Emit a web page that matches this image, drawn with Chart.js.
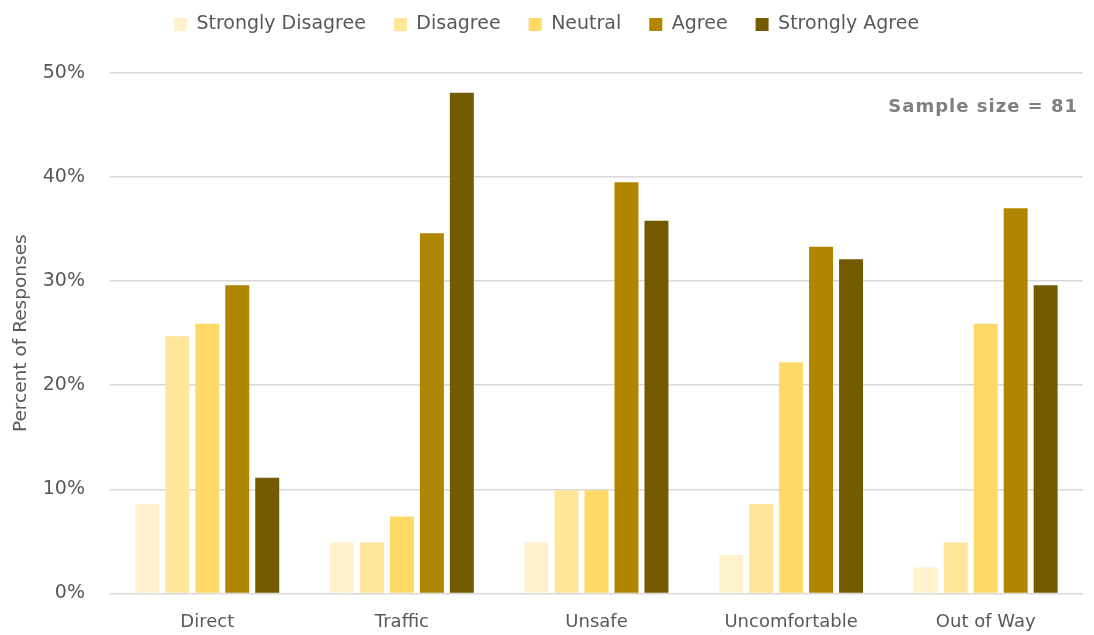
<!DOCTYPE html>
<html>
<head>
<meta charset="utf-8">
<script src="https://cdn.jsdelivr.net/npm/chart.js@4"></script>
<style>
html,body{margin:0;padding:0;background:#fff;}
#wrap{width:1094px;height:635px;position:relative;}
</style>
</head>
<body>
<div id="wrap"><canvas id="c" width="1094" height="635"></canvas></div>
<script>
const categories = ["Direct", "Traffic", "Unsafe", "Uncomfortable", "Out of Way"];
const seriesNames = ["Strongly Disagree", "Disagree", "Neutral", "Agree", "Strongly Agree"];
const stronglyDisagree = [8.6, 4.9, 4.9, 3.7, 2.5];
const disagree = [24.7, 4.9, 9.9, 8.6, 4.9];
const neutral = [25.9, 7.4, 9.9, 22.2, 25.9];
const agree = [29.6, 34.6, 39.5, 33.3, 37.0];
const stronglyAgree = [11.1, 48.1, 35.8, 32.1, 29.6];
const yTicks = [0, 10, 20, 30, 40, 50];
const colors = ["#FFF2CC", "#FFE699", "#FFD966", "#B08600", "#745A00"];
const annotation = "Sample size = 81";

const seriesValues = [stronglyDisagree, disagree, neutral, agree, stronglyAgree];
const FONT = '"DejaVu Sans", sans-serif';

const annotPlugin = {
  id: 'annot',
  afterDraw(chart) {
    const ctx = chart.ctx;
    ctx.save();
    ctx.font = 'bold 18px ' + FONT;
    ctx.letterSpacing = '1px';
    ctx.fillStyle = '#808080';
    ctx.textAlign = 'right';
    ctx.textBaseline = 'middle';
    ctx.fillText(annotation, 1078, 107);
    ctx.restore();
  }
};

new Chart(document.getElementById('c'), {
  type: 'bar',
  data: {
    labels: categories,
    datasets: seriesNames.map((n, i) => ({
      label: n,
      data: seriesValues[i],
      backgroundColor: colors[i],
      borderWidth: 0,
      barPercentage: 0.8,
      categoryPercentage: 0.77
    }))
  },
  options: {
    responsive: false,
    animation: false,
    layout: { padding: { left: 10, right: 11, top: -13, bottom: -8 } },
    plugins: {
      legend: {
        position: 'top',
        weight: 3000,
        labels: {
          boxWidth: 13, boxHeight: 13,
          color: '#595959',
          font: { family: FONT, size: 19 },
          padding: 28
        }
      },
      subtitle: {
        display: true,
        text: '',
        font: { size: 1, lineHeight: 1 },
        padding: { top: 0, bottom: 28 }
      },
      tooltip: { enabled: false }
    },
    scales: {
      x: {
        grid: { display: false },
        border: { display: false },
        ticks: { color: '#595959', font: { family: FONT, size: 18 }, padding: 10 }
      },
      y: {
        min: 0, max: 50,
        afterBuildTicks(scale) { scale.ticks = yTicks.map(v => ({ value: v })); },
        afterFit(scale) { scale.width = 100; },
        grid: { color: '#d9d9d9', lineWidth: 1.5, drawTicks: false },
        border: { display: false },
        ticks: {
          color: '#595959',
          font: { family: FONT, size: 19 },
          padding: 25,
          callback: v => v + '%'
        },
        title: {
          display: true,
          text: 'Percent of Responses',
          color: '#595959',
          font: { family: FONT, size: 18.5 },
          padding: { top: 0, bottom: 0 }
        }
      }
    }
  },
  plugins: [annotPlugin]
});
</script>
</body>
</html>
